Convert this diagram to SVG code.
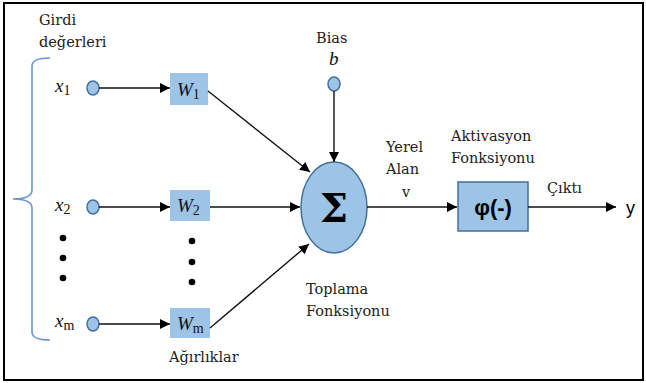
<svg xmlns="http://www.w3.org/2000/svg" width="646" height="383" viewBox="0 0 646 383">
<style>
.lbl{font-family:"DejaVu Serif","Liberation Serif",serif;font-size:14.5px;fill:#222}
.math{font-family:"Liberation Serif","DejaVu Serif",serif;font-style:italic;font-size:19px;fill:#111}
.sub{font-style:normal;font-size:14px}
.node{fill:#9DC3E6;stroke:#41719C;stroke-width:1.5}
.wbox{fill:#9DC3E6}
.conn{stroke:#111;stroke-width:1.4;fill:none;marker-end:url(#arr)}
.dot{fill:#000}
</style>
<defs>
<marker id="arr" viewBox="0 0 10 10" refX="10" refY="5" markerWidth="10" markerHeight="10" markerUnits="userSpaceOnUse" orient="auto">
<path d="M0,0 L10,5 L0,10 z" fill="#000"/>
</marker>
</defs>
<rect x="4" y="3" width="639" height="377" fill="#fff" stroke="#000" stroke-width="2"/>
<g id="inputs-label">
<text class="lbl" x="39" y="25">Girdi</text>
<text class="lbl" x="39" y="47">değerleri</text>
<path d="M50,58 Q32,58 32,66 L32,190 Q32,199 13,199 Q32,199 32,208 L32,332 Q32,340 50,340" fill="none" stroke="#6A94D4" stroke-width="1.6"/>
</g>
<g id="x1">
<text class="math" x="55" y="92">x<tspan class="sub" dy="3">1</tspan></text>
<ellipse class="node" cx="93" cy="88" rx="6" ry="7"/>
</g>
<g id="x2">
<text class="math" x="55" y="211">x<tspan class="sub" dy="3">2</tspan></text>
<ellipse class="node" cx="93" cy="207" rx="6" ry="7"/>
</g>
<g id="xm">
<text class="math" x="55" y="327">x<tspan class="sub" dy="3" font-style="italic">m</tspan></text>
<ellipse class="node" cx="93" cy="324" rx="6" ry="7"/>
</g>
<g id="dots-inputs">
<circle class="dot" cx="63" cy="238" r="3.3"/>
<circle class="dot" cx="63" cy="258" r="3.3"/>
<circle class="dot" cx="63" cy="278" r="3.3"/>
</g>
<g id="W1">
<rect class="wbox" x="170" y="73" width="38" height="32"/>
<text class="math" x="177" y="96">W<tspan class="sub" dy="3">1</tspan></text>
</g>
<g id="W2">
<rect class="wbox" x="170" y="190" width="40" height="31"/>
<text class="math" x="177" y="212">W<tspan class="sub" dy="3">2</tspan></text>
</g>
<g id="Wm">
<rect class="wbox" x="170" y="308" width="40" height="30"/>
<text class="math" x="177" y="330">W<tspan class="sub" dy="3" font-style="italic">m</tspan></text>
</g>
<g id="dots-weights">
<circle class="dot" cx="192" cy="241" r="3.3"/>
<circle class="dot" cx="192" cy="262" r="3.3"/>
<circle class="dot" cx="192" cy="282" r="3.3"/>
</g>
<g id="weights-label">
<text class="lbl" x="169" y="362">Ağırlıklar</text>
</g>
<g id="bias">
<text class="lbl" x="316" y="43">Bias</text>
<text class="math" x="329" y="65" font-size="16">b</text>
<ellipse class="node" cx="334" cy="84" rx="6" ry="7"/>
</g>
<g id="sum">
<ellipse class="node" cx="334" cy="207.5" rx="33" ry="45.5"/>
<text x="334" y="222" text-anchor="middle" font-family="DejaVu Serif,Liberation Serif,serif" font-weight="bold" font-size="40" fill="#000">Σ</text>
<text class="lbl" x="306" y="294">Toplama</text>
<text class="lbl" x="306" y="316">Fonksiyonu</text>
</g>
<g id="local-field-label">
<text class="lbl" x="386" y="152">Yerel</text>
<text class="lbl" x="386" y="174">Alan</text>
<text class="lbl" x="402" y="197">v</text>
</g>
<g id="activation">
<rect class="node" x="458" y="182" width="70" height="49" stroke="#2F528F"/>
<text x="493" y="215" text-anchor="middle" font-family="Liberation Sans,Arial,sans-serif" font-weight="bold" font-size="22" fill="#000">φ(-)</text>
<text class="lbl" x="451" y="141">Aktivasyon</text>
<text class="lbl" x="451" y="163">Fonksiyonu</text>
</g>
<g id="output">
<text class="lbl" x="547" y="193">Çıktı</text>
<text x="626" y="214" font-family="Liberation Sans,Arial,sans-serif" font-size="18" fill="#000">y</text>
</g>
<g id="connectors">
<line class="conn" x1="99" y1="88" x2="170" y2="88"/>
<line class="conn" x1="99" y1="207" x2="170" y2="207"/>
<line class="conn" x1="99" y1="324" x2="170" y2="324"/>
<line class="conn" x1="208" y1="91" x2="310" y2="172"/>
<line class="conn" x1="210" y1="207" x2="300" y2="207"/>
<line class="conn" x1="210" y1="328" x2="309" y2="244"/>
<line class="conn" x1="334" y1="91" x2="334" y2="162"/>
<line class="conn" x1="367" y1="207" x2="457" y2="207"/>
<line class="conn" x1="528" y1="207" x2="616" y2="207"/>
</g>
</svg>
